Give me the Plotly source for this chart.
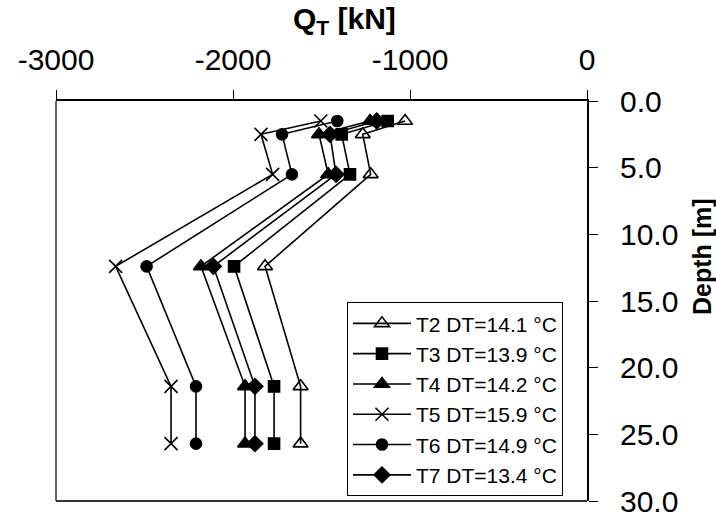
import plotly.graph_objects as go

# Depths of the measurement levels [m]
depth = [1.5, 2.5, 5.5, 12.4, 21.4, 25.7]

# Axial load Q_T [kN] per test at each level
t2 = [-1028, -1267, -1222, -1819, -1618, -1618]
t3 = [-1126, -1386, -1339, -1994, -1768, -1768]
t4 = [-1226, -1514, -1462, -2181, -1932, -1932]
t5 = [-1504, -1842, -1776, -2663, -2350, -2350]
t6 = [-1411, -1723, -1667, -2488, -2209, -2209]
t7 = [-1188, -1452, -1418, -2111, -1876, -1876]

names = ["T2 DT=14.1 °C", "T3 DT=13.9 °C", "T4 DT=14.2 °C",
         "T5 DT=15.9 °C", "T6 DT=14.9 °C", "T7 DT=13.4 °C"]
series = [t2, t3, t4, t5, t6, t7]

# Axis ticks
x_ticks = [-3000, -2000, -1000, 0]
x_tick_text = ["-3000", "-2000", "-1000", "0"]
y_ticks = [0, 5, 10, 15, 20, 25, 30]

symbols = ["triangle-up-open", "square", "triangle-up",
           "x-thin-open", "circle", "diamond"]
sizes = [13, 11, 13, 13, 11, 12]

FONT = "Liberation Sans, Arial, sans-serif"

fig = go.Figure()
for name, vals, sym, sz in zip(names, series, symbols, sizes):
    fig.add_trace(go.Scatter(
        x=vals, y=depth, name=name, mode="lines+markers",
        line=dict(color="black", width=1.6),
        marker=dict(symbol=sym, size=sz, color="black",
                    line=dict(color="black", width=1.6)),
    ))

fig.update_layout(
    width=716, height=519,
    margin=dict(l=56, r=129, t=101, b=18, autoexpand=False),
    paper_bgcolor="white", plot_bgcolor="white",
    font=dict(family=FONT, size=30, color="black"),
    showlegend=True,
    legend=dict(
        x=0.548, y=0.497, xanchor="left", yanchor="top",
        bgcolor="white", bordercolor="black", borderwidth=1,
        font=dict(size=21, family=FONT), tracegroupgap=0,
        itemwidth=58, itemsizing="trace",
    ),
    xaxis=dict(
        side="top", range=[-3000, 0], automargin=False,
        tickmode="array", tickvals=x_ticks, ticktext=x_tick_text,
        ticks="outside", ticklen=9, tickwidth=1, tickcolor="black",
        ticklabelstandoff=8,
        showline=True, linecolor="black", linewidth=2,
        showgrid=False, zeroline=False,
    ),
    yaxis=dict(
        side="right", range=[30, 0], automargin=False,
        tickmode="array", tickvals=y_ticks, tickformat=".1f",
        ticks="outside", ticklen=9, tickwidth=1, tickcolor="black",
        ticklabelstandoff=16,
        showline=True, linecolor="black", linewidth=2,
        showgrid=False, zeroline=False,
    ),
    shapes=[
        dict(type="line", xref="paper", yref="paper", x0=0, x1=0, y0=0, y1=1,
             line=dict(color="#333", width=1.5)),
        dict(type="line", xref="paper", yref="paper", x0=0, x1=1, y0=0, y1=0,
             line=dict(color="#333", width=2)),
    ],
    annotations=[
        dict(text="<b>Q<sub>T</sub> [kN]</b>", xref="paper", yref="paper",
             x=0.544, y=1.2025, xanchor="center", yanchor="middle",
             showarrow=False, font=dict(size=30)),
        dict(text="<b>Depth [m]</b>", xref="paper", yref="paper",
             x=1.2166, y=0.61, xanchor="center", yanchor="middle",
             textangle=-90, showarrow=False, font=dict(size=25)),
    ],
)

fig.write_html("out.html")
